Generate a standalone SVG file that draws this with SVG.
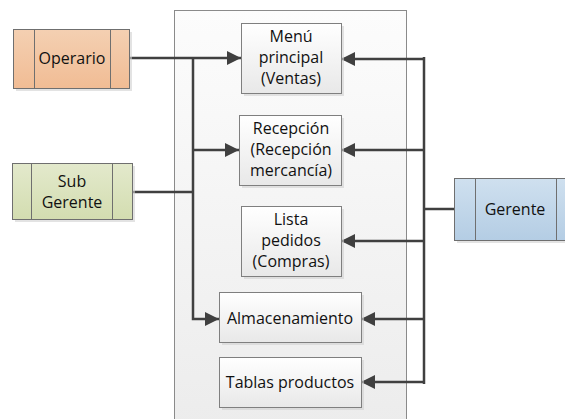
<svg xmlns="http://www.w3.org/2000/svg" width="565" height="419" viewBox="0 0 565 419">
  <defs>
    <linearGradient id="gBox" x1="0" y1="0" x2="0" y2="1">
      <stop offset="0" stop-color="#ffffff"/>
      <stop offset="1" stop-color="#e8e8e8"/>
    </linearGradient>
    <linearGradient id="gCont" x1="0" y1="0" x2="0" y2="1">
      <stop offset="0" stop-color="#fcfcfc"/>
      <stop offset="1" stop-color="#ececec"/>
    </linearGradient>
    <linearGradient id="gOrange" x1="0" y1="0" x2="0" y2="1">
      <stop offset="0" stop-color="#f4d0b2"/>
      <stop offset="1" stop-color="#f1bc94"/>
    </linearGradient>
    <linearGradient id="gGreen" x1="0" y1="0" x2="0" y2="1">
      <stop offset="0" stop-color="#e3e9cc"/>
      <stop offset="1" stop-color="#d3ddb0"/>
    </linearGradient>
    <linearGradient id="gBlue" x1="0" y1="0" x2="0" y2="1">
      <stop offset="0" stop-color="#cfe0ef"/>
      <stop offset="1" stop-color="#b4cde4"/>
    </linearGradient>
    <marker id="arrow" viewBox="0 0 10 10" refX="10" refY="5" markerWidth="16" markerHeight="14" markerUnits="userSpaceOnUse" orient="auto">
      <path d="M0,0 L10,5 L0,10 z" fill="#404040"/>
    </marker>
  </defs>
  <style>
    .shadow { fill: #d0d0d0; opacity: 0.6; }
    .box { fill: url(#gBox); stroke: #7f7f7f; stroke-width: 1; }
    .actor { stroke: #6f6f6f; stroke-width: 1; }
    .div { stroke: #6f6f6f; stroke-width: 1; fill: none; }
    .wire { fill: none; stroke: #404040; stroke-width: 2.5; }
    text { font-family: "Open Sans", Lato, "Liberation Sans", sans-serif; font-size: 16px; fill: #111; text-anchor: middle; }
  </style>

  <!-- system boundary -->
  <g id="system">
    <rect x="174.5" y="10.5" width="232" height="420" fill="url(#gCont)" stroke="#8a8a8a" stroke-width="1"/>
  </g>

  <!-- connectors -->
  <g id="connectors">
    <!-- Operario -->
    <path class="wire" d="M129,58 H241" marker-end="url(#arrow)"/>
    <path class="wire" d="M193,57 V319 H219" marker-end="url(#arrow)"/>
    <path class="wire" d="M193,150 H239" marker-end="url(#arrow)"/>
    <!-- Sub Gerente -->
    <path class="wire" d="M132,192 H193"/>
    <!-- Gerente -->
    <path class="wire" d="M424,57 V384"/>
    <path class="wire" d="M454,209 H423"/>
    <path class="wire" d="M425,59 H341" marker-end="url(#arrow)"/>
    <path class="wire" d="M425,150 H341" marker-end="url(#arrow)"/>
    <path class="wire" d="M425,241 H341" marker-end="url(#arrow)"/>
    <path class="wire" d="M425,319 H361" marker-end="url(#arrow)"/>
    <path class="wire" d="M425,382 H361" marker-end="url(#arrow)"/>
  </g>

  <!-- actors -->
  <g id="operario">
    <rect class="shadow" x="16" y="32" width="116" height="59"/>
    <rect class="actor" x="13.5" y="29.5" width="116" height="59" fill="url(#gOrange)"/>
    <path class="div" d="M34.5,29.5 V88.5 M110.5,29.5 V88.5"/>
    <text x="72" y="64">Operario</text>
  </g>

  <g id="subgerente">
    <rect class="shadow" x="15" y="166" width="120" height="56"/>
    <rect class="actor" x="12.5" y="163.5" width="120" height="56" fill="url(#gGreen)"/>
    <path class="div" d="M31.5,163.5 V219.5 M112.5,163.5 V219.5"/>
    <text x="72" y="187">Sub</text>
    <text x="72" y="208">Gerente</text>
  </g>

  <g id="gerente">
    <rect class="shadow" x="457" y="181" width="120" height="62"/>
    <rect class="actor" x="454.5" y="178.5" width="120" height="62" fill="url(#gBlue)"/>
    <path class="div" d="M475.5,178.5 V240.5 M556.5,178.5 V240.5"/>
    <text x="515" y="215">Gerente</text>
  </g>

  <!-- use cases -->
  <g id="menu">
    <rect class="shadow" x="244" y="26" width="100" height="70"/>
    <rect class="box" x="241.5" y="23.5" width="100" height="70"/>
    <text x="291" y="42">Menú</text>
    <text x="291" y="63">principal</text>
    <text x="291" y="84">(Ventas)</text>
  </g>

  <g id="recepcion">
    <rect class="shadow" x="242" y="118" width="102" height="70"/>
    <rect class="box" x="239.5" y="115.5" width="102" height="70"/>
    <text x="291" y="134">Recepción</text>
    <text x="291" y="155">(Recepción</text>
    <text x="291" y="176">mercancía)</text>
  </g>

  <g id="lista">
    <rect class="shadow" x="244" y="209" width="100" height="70"/>
    <rect class="box" x="241.5" y="206.5" width="100" height="70"/>
    <text x="291" y="225">Lista</text>
    <text x="291" y="246">pedidos</text>
    <text x="291" y="267">(Compras)</text>
  </g>

  <g id="almacenamiento">
    <rect class="shadow" x="222" y="295" width="142" height="50"/>
    <rect class="box" x="219.5" y="292.5" width="142" height="50"/>
    <text x="290" y="324">Almacenamiento</text>
  </g>

  <g id="tablas">
    <rect class="shadow" x="222" y="360" width="142" height="50"/>
    <rect class="box" x="219.5" y="357.5" width="142" height="50"/>
    <text x="290" y="388">Tablas productos</text>
  </g>
</svg>
